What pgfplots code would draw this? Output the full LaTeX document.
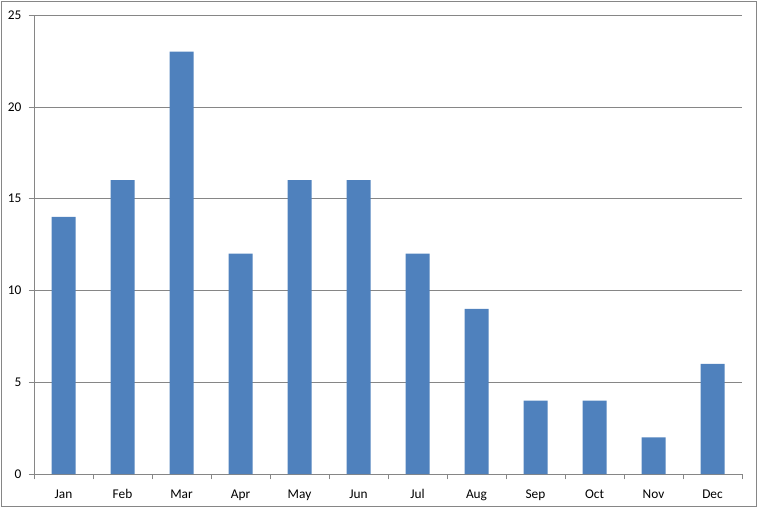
\documentclass[border=0pt]{standalone}
\usepackage{pgfplots}
\pgfplotsset{compat=1.18}
\usepackage{fontspec}
\setmainfont{Carlito}
\definecolor{barblue}{HTML}{4F81BD}
\definecolor{axgray}{HTML}{868686}
\begin{document}
\begin{tikzpicture}[x=0.75pt,y=0.75pt]
\useasboundingbox (-34,-38) rectangle (726,474);
\draw[axgray] (-32.5,-32.5) rectangle (722.5,472.5);
\begin{axis}[
  at={(0,0)}, anchor=origin,
  scale only axis,
  width=531pt, height=344.25pt,
  ybar, bar width=18pt,
  xmin=0.5, xmax=12.5,
  ymin=0, ymax=25,
  ytick={0,5,...,25},
  xtick={1,...,12},
  xticklabels={Jan,Feb,Mar,Apr,May,Jun,Jul,Aug,Sep,Oct,Nov,Dec},
  minor xtick={0.5,1.5,...,12.5},
  axis x line*=bottom, axis y line*=left,
  axis line style={axgray,-},
  tick align=outside,
  major tick length=4pt,
  minor tick length=4pt,
  x tick style={draw=none},
  minor x tick style={axgray,draw=axgray},
  y tick style={axgray},
  ymajorgrids, major grid style={axgray},
  tick label style={font=\fontsize{10}{12}\selectfont, /pgf/number format/assume math mode=true},
  xticklabel style={yshift=-3pt, text height=1.6ex, text depth=0.4ex},
  yticklabel style={xshift=-2pt},
]
\addplot[fill=barblue, draw=none] coordinates {
(1,14) (2,16) (3,23) (4,12) (5,16) (6,16) (7,12) (8,9) (9,4) (10,4) (11,2) (12,6)};
\end{axis}
\end{tikzpicture}
\end{document}
